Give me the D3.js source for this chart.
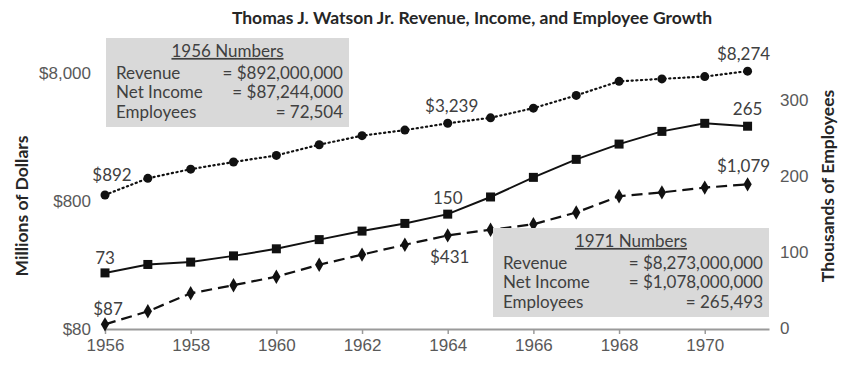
<!DOCTYPE html>
<html>
<head>
<meta charset="utf-8">
<script src="https://cdn.jsdelivr.net/npm/d3@7"></script>
<style>
  body { margin: 0; background: #fff; }
  svg { font-family: Lato, "Liberation Sans", sans-serif; }
</style>
</head>
<body>
<div id="chart"></div>
<script>
const years = [1956, 1957, 1958, 1959, 1960, 1961, 1962, 1963, 1964, 1965, 1966, 1967, 1968, 1969, 1970, 1971];
// millions of dollars
const revenue = [892, 1203, 1418, 1613, 1817, 2202, 2591, 2863, 3239, 3573, 4248, 5345, 6889, 7197, 7504, 8274];
const netIncome = [87, 110, 152, 176, 205, 254, 305, 364, 431, 477, 526, 651, 871, 934, 1018, 1079];
// thousands of employees
const employees = [72.5, 83.6, 86.7, 94.9, 104.2, 116.3, 127.5, 137.6, 149.8, 172.4, 198.2, 221.9, 242.0, 258.7, 269.3, 265.5];

const xTicks = [1956, 1958, 1960, 1962, 1964, 1966, 1968, 1970];
const dollarTicks = [80, 800, 8000];
const employeeTicks = [0, 100, 200, 300];

const box1956 = [["Revenue", "= $892,000,000"], ["Net Income", "= $87,244,000"], ["Employees", "= 72,504"]];
const box1971 = [["Revenue", "= $8,273,000,000"], ["Net Income", "= $1,078,000,000"], ["Employees", "= 265,493"]];

const width = 865, height = 365;
const svg = d3.select("#chart").append("svg")
  .attr("width", width)
  .attr("height", height);

const x = d3.scaleLinear().domain([1956, 1971.5]).range([105, 769]);
const yL = d3.scaleLog().domain([80, 8000]).range([329, 73]);
const yR = d3.scaleLinear().domain([0, 300]).range([328, 100]);

// title
svg.append("text")
  .attr("x", 472).attr("y", 24)
  .attr("text-anchor", "middle")
  .style("font-size", "17.5px").style("font-weight", "bold")
  .attr("fill", "#262626")
  .text("Thomas J. Watson Jr. Revenue, Income, and Employee Growth");

// x axis
const xAxis = svg.append("g")
  .attr("transform", "translate(0,329)")
  .call(d3.axisBottom(x).tickValues(xTicks).tickFormat(d3.format("d")).tickSize(5).tickSizeOuter(0));
xAxis.select(".domain").attr("stroke", "#9a9a9a").attr("stroke-width", 2);
xAxis.selectAll(".tick line").attr("stroke", "#9a9a9a").attr("stroke-width", 1.5);
xAxis.selectAll(".tick text").attr("fill", "#595959").style("font-size", "17px").attr("y", 10);

// left axis (labels only)
const lAxis = svg.append("g")
  .attr("transform", "translate(91,0)")
  .call(d3.axisLeft(yL).tickValues(dollarTicks).tickFormat(d => "$" + d3.format(",")(d)).tickSize(0));
lAxis.select(".domain").remove();
lAxis.selectAll(".tick text").attr("fill", "#595959").style("font-size", "17px").attr("x", 0);

// right axis (labels only)
const rAxis = svg.append("g")
  .attr("transform", "translate(780,0)")
  .call(d3.axisRight(yR).tickValues(employeeTicks).tickSize(0));
rAxis.select(".domain").remove();
rAxis.selectAll(".tick text").attr("fill", "#595959").style("font-size", "17px").attr("x", 0);

// axis titles
svg.append("text")
  .attr("transform", "translate(28,206) rotate(-90)")
  .attr("text-anchor", "middle")
  .style("font-size", "17.5px").style("font-weight", "bold")
  .attr("fill", "#262626")
  .text("Millions of Dollars");
svg.append("text")
  .attr("transform", "translate(834,186) rotate(-90)")
  .attr("text-anchor", "middle")
  .style("font-size", "17.5px").style("font-weight", "bold")
  .attr("fill", "#262626")
  .text("Thousands of Employees");

const ink = "#111";

// revenue: dotted with circles
const lineRev = d3.line().x((d, i) => x(years[i])).y(d => yL(d));
svg.append("path").datum(revenue)
  .attr("d", lineRev).attr("fill", "none")
  .attr("stroke", ink).attr("stroke-width", 2.2)
  .attr("stroke-dasharray", "1.2,3.5").attr("stroke-linecap", "round");
svg.selectAll(".rev").data(revenue).enter().append("circle")
  .attr("cx", (d, i) => x(years[i])).attr("cy", d => yL(d))
  .attr("r", 4.5).attr("fill", ink);

// net income: dashed with diamonds
svg.append("path").datum(netIncome)
  .attr("d", lineRev).attr("fill", "none")
  .attr("stroke", ink).attr("stroke-width", 2.2)
  .attr("stroke-dasharray", "11,6");
svg.selectAll(".inc").data(netIncome).enter().append("path")
  .attr("d", d3.symbol(d3.symbolDiamond, 60))
  .attr("transform", (d, i) => `translate(${x(years[i])},${yL(d)})`)
  .attr("fill", ink);

// employees: solid with squares
const lineEmp = d3.line().x((d, i) => x(years[i])).y(d => yR(d));
svg.append("path").datum(employees)
  .attr("d", lineEmp).attr("fill", "none")
  .attr("stroke", ink).attr("stroke-width", 2);
svg.selectAll(".emp").data(employees).enter().append("rect")
  .attr("x", (d, i) => x(years[i]) - 4.5).attr("y", d => yR(d) - 4.5)
  .attr("width", 9).attr("height", 9).attr("fill", ink);

// data labels
const labels = [
  { text: "$892", x: x(1956) + 7, y: yL(revenue[0]) - 20 },
  { text: "$3,239", x: x(1964) + 4, y: yL(revenue[8]) - 17 },
  { text: "$8,274", x: x(1971) - 4, y: yL(revenue[15]) - 17 },
  { text: "73", x: x(1956) + 0, y: yR(employees[0]) - 15 },
  { text: "150", x: x(1964), y: yR(employees[8]) - 16 },
  { text: "265", x: x(1971), y: yR(employees[15]) - 17 },
  { text: "$87", x: x(1956) + 3, y: yL(netIncome[0]) - 15 },
  { text: "$431", x: x(1964) + 2, y: yL(netIncome[8]) + 22 },
  { text: "$1,079", x: x(1971) - 4, y: yL(netIncome[15]) - 18 }
];
svg.selectAll(".lbl").data(labels).enter().append("text")
  .attr("x", d => d.x).attr("y", d => d.y)
  .attr("dy", "0.35em").attr("text-anchor", "middle")
  .style("font-size", "17px").attr("fill", "#404040")
  .text(d => d.text);

// info boxes
function infoBox(x0, y0, w, h, title, rows) {
  const g = svg.append("g");
  g.append("rect").attr("x", x0).attr("y", y0).attr("width", w).attr("height", h).attr("fill", "#d9d9d9");
  g.append("text")
    .attr("x", x0 + w / 2).attr("y", y0 + 13).attr("dy", "0.35em")
    .attr("text-anchor", "middle").style("font-size", "17px")
    .style("text-decoration", "underline").attr("fill", "#404040")
    .text(title);
  rows.forEach((r, i) => {
    g.append("text").attr("x", x0 + 10).attr("y", y0 + 35 + i * 19.5).attr("dy", "0.35em")
      .style("font-size", "17px").attr("fill", "#404040").text(r[0]);
    g.append("text").attr("x", x0 + w - 6).attr("y", y0 + 35 + i * 19.5).attr("dy", "0.35em")
      .attr("text-anchor", "end").style("font-size", "17px").attr("fill", "#404040").text(r[1]);
  });
}
infoBox(106, 38, 243, 89, "1956 Numbers", box1956);
infoBox(493, 228, 276, 89, "1971 Numbers", box1971);
</script>
</body>
</html>
